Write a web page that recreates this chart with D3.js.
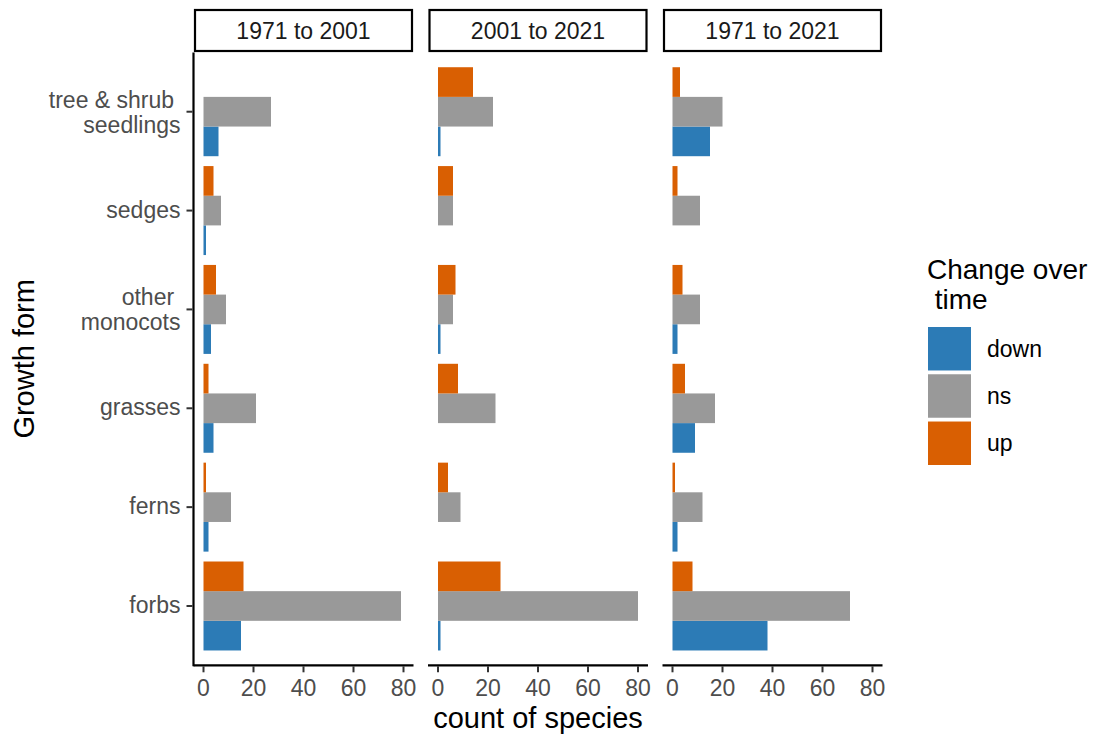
<!DOCTYPE html>
<html>
<head>
<meta charset="utf-8">
<script src="https://cdn.jsdelivr.net/npm/d3@7"></script>
<style>
  body { margin: 0; background: #fff; }
  svg { font-family: "Liberation Sans", Arial, sans-serif; }
  text { white-space: pre; }
</style>
</head>
<body>
<svg id="chart" width="1103" height="737"></svg>
<script>
// growth forms, top to bottom as drawn
const forms = ['tree & shrub seedlings', 'sedges', 'other monocots', 'grasses', 'ferns', 'forbs'];
const formLabels = [['tree & shrub ', 'seedlings'], ['sedges'], ['other ', 'monocots'], ['grasses'], ['ferns'], ['forbs']];
const periods = ['1971 to 2001', '2001 to 2021', '1971 to 2021'];
const changes = ['down', 'ns', 'up'];
const xTicks = [0, 20, 40, 60, 80];

// counts of species, one array per period and change class (same order as forms)
const down7101 = [6, 1, 3, 4, 2, 15];
const ns7101 = [27, 7, 9, 21, 11, 79];
const up7101 = [0, 4, 5, 2, 1, 16];
const down0121 = [1, 0, 1, 0, 0, 1];
const ns0121 = [22, 6, 6, 23, 9, 80];
const up0121 = [14, 6, 7, 8, 4, 25];
const down7121 = [15, 0, 2, 9, 2, 38];
const ns7121 = [20, 11, 11, 17, 12, 71];
const up7121 = [3, 2, 4, 5, 1, 8];

const counts = [
  { down: down7101, ns: ns7101, up: up7101 },
  { down: down0121, ns: ns0121, up: up0121 },
  { down: down7121, ns: ns7121, up: up7121 },
];

const colors = { down: '#2c7bb6', ns: '#999999', up: '#d95f02' };

const svg = d3.select('#chart');

const panelTop = 52.4;
const panelBottom = 665.3;
const panelW = 220;
const panelLefts = [193.5, 428, 662.5];
const small = 23;
const big = 29;

const y = d3.scalePoint()
  .domain(forms)
  .range([panelTop, panelBottom])
  .padding(0.6);

const step = y.step();
const ySub = d3.scaleBand()
  .domain(['up', 'ns', 'down'])
  .range([-0.45 * step, 0.45 * step]);

const x = d3.scaleLinear().domain([-4, 84]).range([0, panelW]);

periods.forEach((period, p) => {
  const g = svg.append('g').attr('transform', `translate(${panelLefts[p]},0)`);

  // bars
  changes.forEach((c) => {
    g.selectAll(`.bar-${c}`)
      .data(forms.map((f, i) => ({ form: f, value: counts[p][c][i] })).filter((d) => d.value > 0))
      .enter()
      .append('rect')
      .attr('class', `bar-${c}`)
      .attr('x', x(0))
      .attr('y', (d) => y(d.form) + ySub(c))
      .attr('width', (d) => x(d.value) - x(0))
      .attr('height', ySub.bandwidth())
      .attr('fill', colors[c]);
  });

  // strip
  g.append('rect')
    .attr('x', 1.5)
    .attr('y', 10)
    .attr('width', panelW - 3)
    .attr('height', 41)
    .attr('fill', '#fff')
    .attr('stroke', '#000')
    .attr('stroke-width', 2.2);
  g.append('text')
    .attr('x', panelW / 2)
    .attr('y', 38.5)
    .attr('text-anchor', 'middle')
    .attr('font-size', small)
    .attr('fill', '#1a1a1a')
    .text(period);

  // x axis
  const xAxis = g.append('g').attr('transform', `translate(0,${panelBottom})`);
  xAxis.append('line')
    .attr('x1', 0).attr('x2', panelW)
    .attr('stroke', '#000').attr('stroke-width', 2.2);
  const tk = xAxis.selectAll('.tick').data(xTicks).enter().append('g')
    .attr('transform', (d) => `translate(${x(d)},0)`);
  tk.append('line').attr('y1', 1).attr('y2', 7).attr('stroke', '#333').attr('stroke-width', 2);
  tk.append('text')
    .attr('y', 31)
    .attr('text-anchor', 'middle')
    .attr('font-size', small)
    .attr('fill', '#4d4d4d')
    .text((d) => d);
});

// y axis on first panel
const yAxis = svg.append('g').attr('transform', `translate(${panelLefts[0]},0)`);
yAxis.append('line')
  .attr('y1', panelTop).attr('y2', panelBottom + 1)
  .attr('stroke', '#000').attr('stroke-width', 2.2);
const yt = yAxis.selectAll('.ytick').data(forms).enter().append('g')
  .attr('transform', (d) => `translate(0,${y(d)})`);
yt.append('line').attr('x1', -7).attr('x2', -1).attr('stroke', '#333').attr('stroke-width', 2);
yt.each(function (d, i) {
  const lines = formLabels[i];
  const t = d3.select(this).append('text')
    .attr('text-anchor', 'end')
    .attr('font-size', small)
    .attr('fill', '#4d4d4d');
  const base = lines.length === 1 ? [7] : [-4, 21];
  lines.forEach((l, j) => {
    t.append('tspan').attr('x', -13).attr('y', base[j]).text(l);
  });
});

// axis titles
svg.append('text')
  .attr('x', d3.mean([panelLefts[0], panelLefts[2] + panelW]))
  .attr('y', 728)
  .attr('text-anchor', 'middle')
  .attr('font-size', big)
  .attr('fill', '#000')
  .text('count of species');

svg.append('text')
  .attr('transform', `translate(34,${(panelTop + panelBottom) / 2}) rotate(-90)`)
  .attr('text-anchor', 'middle')
  .attr('font-size', big)
  .attr('fill', '#000')
  .text('Growth form');

// legend
const legend = svg.append('g').attr('transform', 'translate(927,0)');
legend.append('text')
  .attr('font-size', 28)
  .attr('fill', '#000')
  .selectAll('tspan')
  .data(['Change over', ' time'])
  .enter()
  .append('tspan')
  .attr('x', 0)
  .attr('y', (d, i) => 279 + i * 30)
  .text((d) => d);

const keyY = d3.scaleBand().domain(changes).range([327, 465]).paddingInner(0.08);
const key = legend.selectAll('.key').data(changes).enter().append('g')
  .attr('transform', (d) => `translate(0,${keyY(d)})`);
key.append('rect')
  .attr('x', 1)
  .attr('width', 43)
  .attr('height', keyY.bandwidth())
  .attr('fill', (d) => colors[d]);
key.append('text')
  .attr('x', 60)
  .attr('y', keyY.bandwidth() / 2 + 8)
  .attr('font-size', small)
  .attr('fill', '#000')
  .text((d) => d);
</script>
</body>
</html>
